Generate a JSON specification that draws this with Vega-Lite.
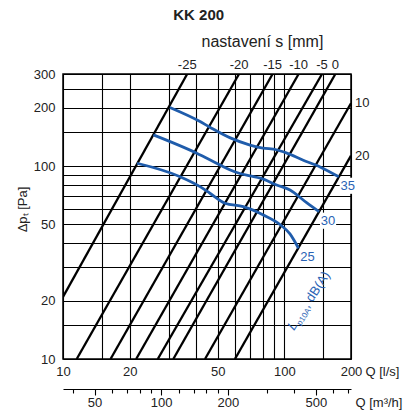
{
  "$schema": "https://vega.github.io/schema/vega-lite/v6.json",
  "width": 288,
  "height": 285,
  "autosize": {"type": "none"},
  "padding": {"left": 63, "top": 74, "right": 57, "bottom": 57},
  "background": "white",
  "config": {
    "view": {"stroke": "black", "strokeWidth": 1.5},
    "font": "Liberation Sans",
    "text": {"font": "Liberation Sans"}
  },
  "datasets": {
    "settings": [
      {"s": "-25", "Q": 10, "dp": 21.0}, {"s": "-25", "Q": 36.4, "dp": 300},
      {"s": "-20", "Q": 11.53, "dp": 10}, {"s": "-20", "Q": 62.4, "dp": 300},
      {"s": "-15", "Q": 16.4, "dp": 10}, {"s": "-15", "Q": 88.5, "dp": 300},
      {"s": "-10", "Q": 21.4, "dp": 10}, {"s": "-10", "Q": 116, "dp": 300},
      {"s": "-5", "Q": 26.8, "dp": 10}, {"s": "-5", "Q": 148, "dp": 300},
      {"s": "0", "Q": 31.5, "dp": 10}, {"s": "0", "Q": 170, "dp": 300},
      {"s": "10", "Q": 43.8, "dp": 10}, {"s": "10", "Q": 200, "dp": 211.6},
      {"s": "20", "Q": 59.8, "dp": 10}, {"s": "20", "Q": 200, "dp": 113.2}
    ],
    "sound": [
      {"L": "35", "Q": 30.4, "dp": 201}, {"L": "35", "Q": 41.6, "dp": 170}, {"L": "35", "Q": 46.1, "dp": 159},
      {"L": "35", "Q": 57, "dp": 140}, {"L": "35", "Q": 70, "dp": 128.5}, {"L": "35", "Q": 80, "dp": 124},
      {"L": "35", "Q": 92, "dp": 121.5}, {"L": "35", "Q": 102, "dp": 117}, {"L": "35", "Q": 121, "dp": 107.5},
      {"L": "35", "Q": 145, "dp": 99}, {"L": "35", "Q": 176, "dp": 88},
      {"L": "30", "Q": 25.6, "dp": 145}, {"L": "30", "Q": 40.2, "dp": 116.5}, {"L": "30", "Q": 51.2, "dp": 101.3},
      {"L": "30", "Q": 57, "dp": 95.5}, {"L": "30", "Q": 63, "dp": 91.5}, {"L": "30", "Q": 70, "dp": 89},
      {"L": "30", "Q": 78, "dp": 86.5}, {"L": "30", "Q": 92.3, "dp": 79.8}, {"L": "30", "Q": 106, "dp": 75.2},
      {"L": "30", "Q": 126, "dp": 64.6}, {"L": "30", "Q": 143.5, "dp": 58},
      {"L": "25", "Q": 21.6, "dp": 103.4}, {"L": "25", "Q": 33.8, "dp": 88.1}, {"L": "25", "Q": 41.6, "dp": 78.2},
      {"L": "25", "Q": 46.1, "dp": 72.3}, {"L": "25", "Q": 53.9, "dp": 64.2}, {"L": "25", "Q": 65.2, "dp": 61.6},
      {"L": "25", "Q": 80.3, "dp": 55.8}, {"L": "25", "Q": 95.5, "dp": 49.8}, {"L": "25", "Q": 106, "dp": 44.5},
      {"L": "25", "Q": 115.8, "dp": 37.5}
    ]
  },
  "layer": [
    {
      "layer": [
        {
          "data": {"name": "settings"},
          "mark": {"type": "line", "color": "black", "strokeWidth": 2.3, "clip": true},
          "encoding": {
            "x": {
              "field": "Q", "type": "quantitative",
              "scale": {"type": "log", "domain": [10, 200], "nice": false},
              "axis": {
                "values": [10, 15, 20, 30, 40, 50, 60, 70, 80, 90, 100, 150, 200],
                "format": "d",
                "labelExpr": "(datum.value == 10 || datum.value == 20 || datum.value == 50 || datum.value == 100 || datum.value == 200) ? datum.label : ''",
                "labelFlush": false,
                "labelOverlap": false,
                "grid": true, "gridColor": "black", "gridWidth": 1.1, "gridOpacity": 1,
                "ticks": false, "tickSize": 0, "domain": false,
                "labelPadding": 6, "labelFontSize": 13, "labelColor": "#222",
                "title": "Q [l/s]", "titleX": 302, "titleY": 6, "titleAlign": "left", "titleBaseline": "top",
                "titleFontWeight": "normal", "titleFontSize": 13, "titleColor": "#222"
              }
            },
            "y": {
              "field": "dp", "type": "quantitative",
              "scale": {"type": "log", "domain": [10, 300], "nice": false},
              "axis": {
                "values": [10, 15, 20, 30, 40, 50, 60, 70, 80, 90, 100, 150, 200, 250, 300],
                "format": "d",
                "labelExpr": "(datum.value == 10 || datum.value == 20 || datum.value == 50 || datum.value == 100 || datum.value == 200 || datum.value == 300) ? datum.label : ''",
                "labelOverlap": false,
                "grid": true, "gridColor": "black", "gridWidth": 1.1, "gridOpacity": 1,
                "ticks": false, "tickSize": 0, "domain": false,
                "labelPadding": 8, "labelFontSize": 13, "labelColor": "#222",
                "title": "Δpₜ [Pa]", "titleX": -41, "titleY": 135, "titleAngle": -90,
                "titleAlign": "center", "titleBaseline": "middle",
                "titleFontWeight": "normal", "titleFontSize": 13, "titleColor": "#222"
              }
            },
            "detail": {"field": "s"}
          }
        },
        {
          "data": {"name": "sound"},
          "mark": {"type": "line", "color": "#1f5cab", "strokeWidth": 2.8, "interpolate": "monotone"},
          "encoding": {
            "x": {"field": "Q", "type": "quantitative"},
            "y": {"field": "dp", "type": "quantitative"},
            "detail": {"field": "L"}
          }
        },
        {
          "data": {"name": "settings"},
          "transform": [{"filter": "datum.dp >= 300"}],
          "mark": {"type": "text", "fontSize": 13, "color": "#222", "baseline": "middle", "dy": -9},
          "encoding": {
            "x": {"field": "Q", "type": "quantitative"},
            "y": {"field": "dp", "type": "quantitative"},
            "text": {"field": "s"}
          }
        },
        {
          "data": {"name": "settings"},
          "transform": [{"filter": "datum.Q >= 200"}],
          "mark": {"type": "text", "fontSize": 13, "color": "#222", "baseline": "middle", "align": "left", "dx": 4},
          "encoding": {
            "x": {"field": "Q", "type": "quantitative"},
            "y": {"field": "dp", "type": "quantitative"},
            "text": {"field": "s"}
          }
        },
        {
          "data": {"name": "sound"},
          "transform": [{"aggregate": [{"op": "argmax", "field": "Q", "as": "last"}], "groupby": ["L"]}],
          "layer": [
            {
              "mark": {"type": "square", "color": "white", "opacity": 1, "size": 260, "xOffset": 9, "yOffset": 9},
              "encoding": {
                "x": {"field": "last.Q", "type": "quantitative"},
                "y": {"field": "last.dp", "type": "quantitative"}
              }
            },
            {
              "mark": {"type": "text", "fontSize": 13, "color": "#2a63b5", "baseline": "middle", "align": "center", "dx": 9, "dy": 9},
              "encoding": {
                "x": {"field": "last.Q", "type": "quantitative"},
                "y": {"field": "last.dp", "type": "quantitative"},
                "text": {"field": "L"}
              }
            }
          ]
        },
        {
          "data": {"values": [{}]},
          "mark": {"type": "text", "fontSize": 15, "fontWeight": "bold", "color": "#222", "baseline": "middle"},
          "encoding": {"x": {"datum": 41}, "y": {"datum": 607}, "text": {"value": "KK 200"}}
        },
        {
          "data": {"values": [{}]},
          "mark": {"type": "text", "fontSize": 16, "color": "#222", "baseline": "middle"},
          "encoding": {"x": {"datum": 79.6}, "y": {"datum": 440}, "text": {"value": "nastavení s [mm]"}}
        },
        {
          "data": {"values": [{}]},
          "mark": {"type": "text", "fontSize": 13, "fontStyle": "italic", "color": "#2a63b5", "align": "left", "baseline": "alphabetic", "angle": -57},
          "encoding": {"x": {"datum": 110.5}, "y": {"datum": 13.97}, "text": {"value": "L"}}
        },
        {
          "data": {"values": [{}]},
          "mark": {"type": "text", "fontSize": 8, "color": "#2a63b5", "align": "left", "baseline": "alphabetic", "angle": -57, "dx": 8, "dy": 3},
          "encoding": {"x": {"datum": 110.5}, "y": {"datum": 13.97}, "text": {"value": "p10A"}}
        },
        {
          "data": {"values": [{}]},
          "mark": {"type": "text", "fontSize": 13, "color": "#2a63b5", "align": "left", "baseline": "alphabetic", "angle": -57, "dx": 26.5},
          "encoding": {"x": {"datum": 110.5}, "y": {"datum": 13.97}, "text": {"value": ", dB(A)"}}
        }
      ]
    },
    {
      "data": {"values": [{}]},
      "mark": {"type": "rule", "opacity": 0},
      "encoding": {
        "x": {
          "datum": 36, "type": "quantitative",
          "scale": {"type": "log", "domain": [36, 720], "nice": false},
          "axis": {
            "orient": "bottom", "offset": 30,
            "values": [40, 50, 60, 70, 80, 90, 100, 120, 140, 160, 180, 200, 300, 400, 500, 600, 700],
            "format": "d",
            "labelExpr": "(datum.value == 50 || datum.value == 100 || datum.value == 200 || datum.value == 500) ? datum.label : ''",
            "labelFlush": false, "labelOverlap": false,
            "grid": false,
            "domainColor": "black", "domainWidth": 1.2,
            "tickColor": "black", "tickWidth": 1.1,
            "tickSize": {"condition": {"test": "datum.value == 50 || datum.value == 100 || datum.value == 200 || datum.value == 500", "value": 6}, "value": 4},
            "labelPadding": 1, "labelFontSize": 13, "labelColor": "#222",
            "title": "Q [m³/h]", "titleX": 292, "titleY": 7, "titleAlign": "left", "titleBaseline": "top",
            "titleFontWeight": "normal", "titleFontSize": 13, "titleColor": "#222"
          }
        }
      }
    }
  ],
  "resolve": {"scale": {"x": "independent"}}
}
